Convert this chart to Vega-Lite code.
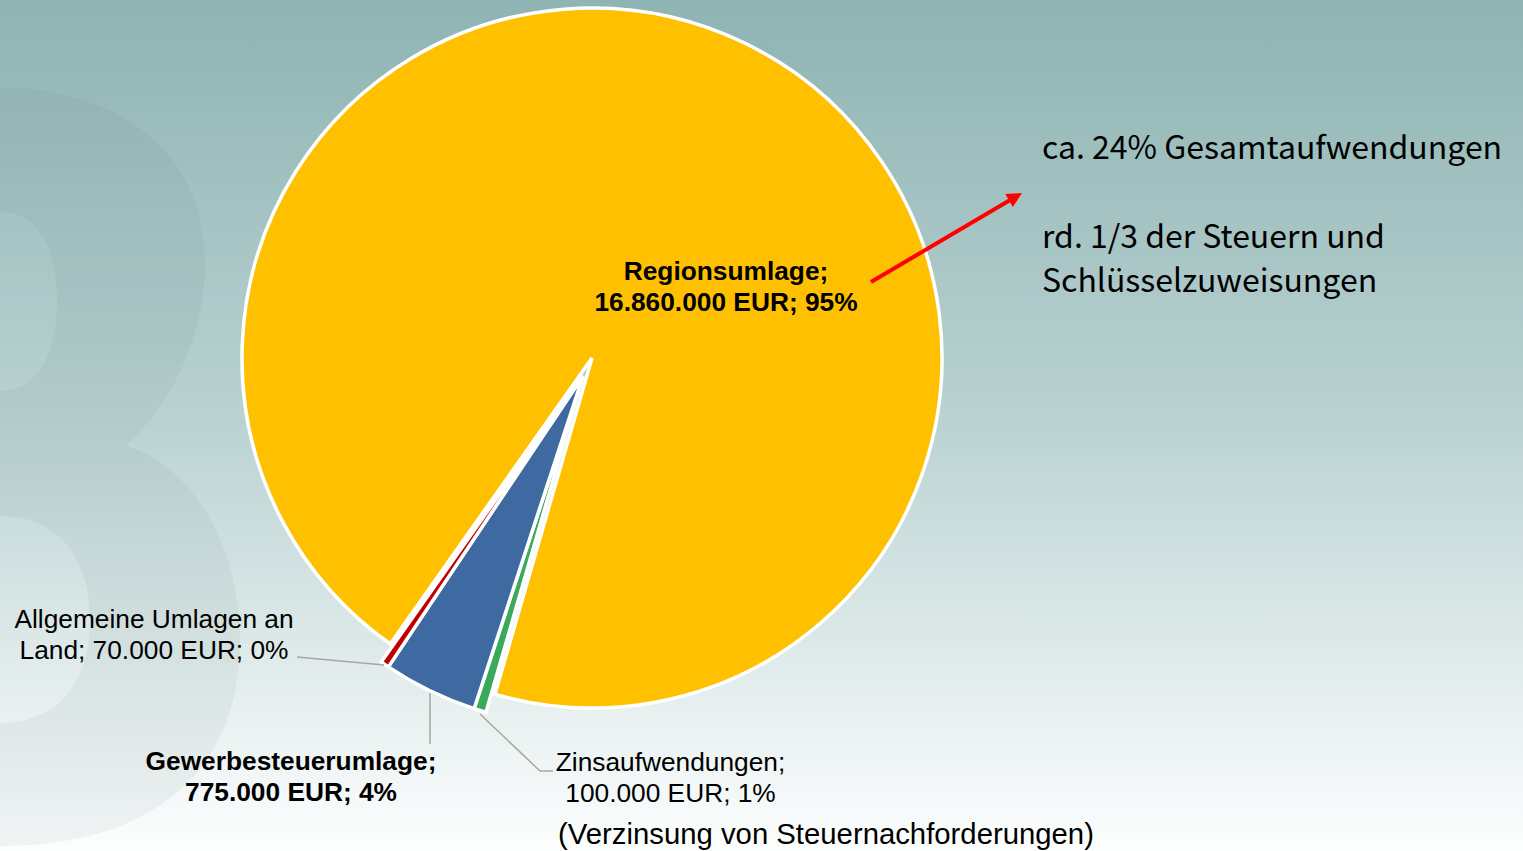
{
  "$schema": "https://vega.github.io/schema/vega-lite/v6.json",
  "width": 1523,
  "height": 851,
  "autosize": {"type": "none"},
  "padding": 0,
  "background": "#ffffff",
  "view": {
    "stroke": null,
    "fill": {
      "gradient": "linear",
      "x1": 0, "y1": 0, "x2": 0, "y2": 1,
      "stops": [
        {"offset": 0, "color": "#8eb4b3"},
        {"offset": 0.47, "color": "#b8d0d0"},
        {"offset": 0.7, "color": "#d6e4e4"},
        {"offset": 1, "color": "#fdfefe"}
      ]
    }
  },
  "datasets": {
    "pie": [
      {"category": "Regionsumlage", "value": 16860000, "label": ["Regionsumlage;", "16.860.000 EUR; 95%"]},
      {"category": "Zinsaufwendungen", "value": 100000, "label": ["Zinsaufwendungen;", "100.000 EUR; 1%"]},
      {"category": "Gewerbesteuerumlage", "value": 775000, "label": ["Gewerbesteuerumlage;", "775.000 EUR; 4%"]},
      {"category": "Allgemeine Umlagen an Land", "value": 70000, "label": ["Allgemeine Umlagen an", "Land; 70.000 EUR; 0%"]}
    ],
    "one": [{"k": 1}]
  },
  "data": {"name": "pie"},
  "transform": [{"window": [{"op": "row_number", "as": "idx"}]}],
  "layer": [
    {
      "data": {"name": "one"},
      "mark": {
        "type": "point",
        "shape": "M-80,87 L0,87 C130,90 205,160 205,262 C205,340 172,400 127,446 C200,470 240,555 240,640 C240,765 160,846 0,846 L-80,846 Z M-80,212 L-80,391 L0,391 C40,391 57,350 57,300 C57,250 40,212 0,212 Z M-80,516 L-80,723 L0,723 C60,723 90,680 90,620 C90,560 60,516 0,516 Z",
        "size": 4, "filled": true, "fill": "#4f7777", "opacity": 0.07, "strokeWidth": 0
      },
      "encoding": {"x": {"value": 0}, "y": {"value": 0}}
    },
    {
      "mark": {"type": "arc", "x": 592, "y": 358, "radius": 350, "stroke": "#ffffff", "strokeWidth": 3.5},
      "encoding": {
        "theta": {"field": "value", "type": "quantitative", "stack": true, "scale": {"range": [3.756, 10.0392]}},
        "order": {"field": "idx", "type": "quantitative"},
        "color": {
          "field": "category", "type": "nominal", "legend": null,
          "scale": {
            "domain": ["Regionsumlage", "Zinsaufwendungen", "Gewerbesteuerumlage", "Allgemeine Umlagen an Land"],
            "range": ["#ffc000", "#3aa95b", "#3e6aa1", "#c00000"]
          }
        },
        "opacity": {"condition": {"test": "datum.category === 'Regionsumlage'", "value": 1}, "value": 0}
      }
    },
    {
      "mark": {"type": "arc", "x": 583, "y": 376, "radius": 350, "stroke": "#ffffff", "strokeWidth": 3.5},
      "encoding": {
        "theta": {"field": "value", "type": "quantitative", "stack": true, "scale": {"range": [3.756, 10.0392]}},
        "order": {"field": "idx", "type": "quantitative"},
        "color": {"field": "category", "type": "nominal", "legend": null},
        "opacity": {"condition": {"test": "datum.category === 'Regionsumlage'", "value": 0}, "value": 1}
      }
    },
    {
      "transform": [{"filter": "datum.category === 'Regionsumlage'"}],
      "mark": {"type": "text", "x": 726, "y": 279.5, "align": "center", "baseline": "alphabetic", "font": "Liberation Sans", "fontSize": 26.3, "fontWeight": "bold", "lineHeight": 31.4, "color": "#000000"},
      "encoding": {"text": {"field": "label"}}
    },
    {
      "transform": [{"filter": "datum.category === 'Allgemeine Umlagen an Land'"}],
      "mark": {"type": "text", "x": 154, "y": 628, "align": "center", "baseline": "alphabetic", "font": "Liberation Sans", "fontSize": 26.3, "lineHeight": 30.5, "color": "#000000"},
      "encoding": {"text": {"field": "label"}}
    },
    {
      "transform": [{"filter": "datum.category === 'Gewerbesteuerumlage'"}],
      "mark": {"type": "text", "x": 291, "y": 770, "align": "center", "baseline": "alphabetic", "font": "Liberation Sans", "fontSize": 26.3, "fontWeight": "bold", "lineHeight": 31, "color": "#000000"},
      "encoding": {"text": {"field": "label"}}
    },
    {
      "transform": [{"filter": "datum.category === 'Zinsaufwendungen'"}],
      "mark": {"type": "text", "x": 670.5, "y": 771, "align": "center", "baseline": "alphabetic", "font": "Liberation Sans", "fontSize": 26.3, "lineHeight": 31, "color": "#000000"},
      "encoding": {"text": {"field": "label"}}
    },
    {
      "data": {"values": [{"text": "(Verzinsung von Steuernachforderungen)"}]},
      "mark": {"type": "text", "x": 826, "y": 844, "align": "center", "baseline": "alphabetic", "font": "Liberation Sans", "fontSize": 29.3, "color": "#000000"},
      "encoding": {"text": {"field": "text"}}
    },
    {
      "data": {"name": "one"},
      "mark": {"type": "rule", "stroke": "#a6a6a6", "strokeWidth": 1.5},
      "encoding": {"x": {"value": 297}, "y": {"value": 657}, "x2": {"value": 384}, "y2": {"value": 665}}
    },
    {
      "data": {"name": "one"},
      "mark": {"type": "rule", "stroke": "#a6a6a6", "strokeWidth": 1.5},
      "encoding": {"x": {"value": 430}, "y": {"value": 693}, "x2": {"value": 430}, "y2": {"value": 744}}
    },
    {
      "data": {"name": "one"},
      "mark": {"type": "rule", "stroke": "#a6a6a6", "strokeWidth": 1.5},
      "encoding": {"x": {"value": 480}, "y": {"value": 714}, "x2": {"value": 540}, "y2": {"value": 771}}
    },
    {
      "data": {"name": "one"},
      "mark": {"type": "rule", "stroke": "#a6a6a6", "strokeWidth": 1.5},
      "encoding": {"x": {"value": 540}, "y": {"value": 771}, "x2": {"value": 553}, "y2": {"value": 771}}
    },
    {
      "data": {"name": "one"},
      "mark": {"type": "rule", "stroke": "#ff0000", "strokeWidth": 4},
      "encoding": {"x": {"value": 871}, "y": {"value": 282}, "x2": {"value": 1011}, "y2": {"value": 199.5}}
    },
    {
      "data": {"name": "one"},
      "mark": {"type": "point", "shape": "M0,-1L0.95,0.9L-0.95,0.9Z", "size": 250, "angle": 60, "filled": true, "fill": "#ff0000", "opacity": 1, "strokeWidth": 0},
      "encoding": {"x": {"value": 1015.2}, "y": {"value": 197}}
    },
    {
      "data": {"values": [{"text": "ca. 24% Gesamtaufwendungen"}]},
      "mark": {"type": "text", "x": 1042, "y": 159.3, "align": "left", "baseline": "alphabetic", "font": "Noto Sans CJK JP", "fontSize": 32, "color": "#000000"},
      "encoding": {"text": {"field": "text"}}
    },
    {
      "data": {"values": [{"text": ["rd. 1/3 der Steuern und", "Schlüsselzuweisungen"]}]},
      "mark": {"type": "text", "x": 1042, "y": 248.3, "align": "left", "baseline": "alphabetic", "font": "Noto Sans CJK JP", "fontSize": 32, "lineHeight": 43.4, "color": "#000000"},
      "encoding": {"text": {"field": "text"}}
    }
  ]
}
